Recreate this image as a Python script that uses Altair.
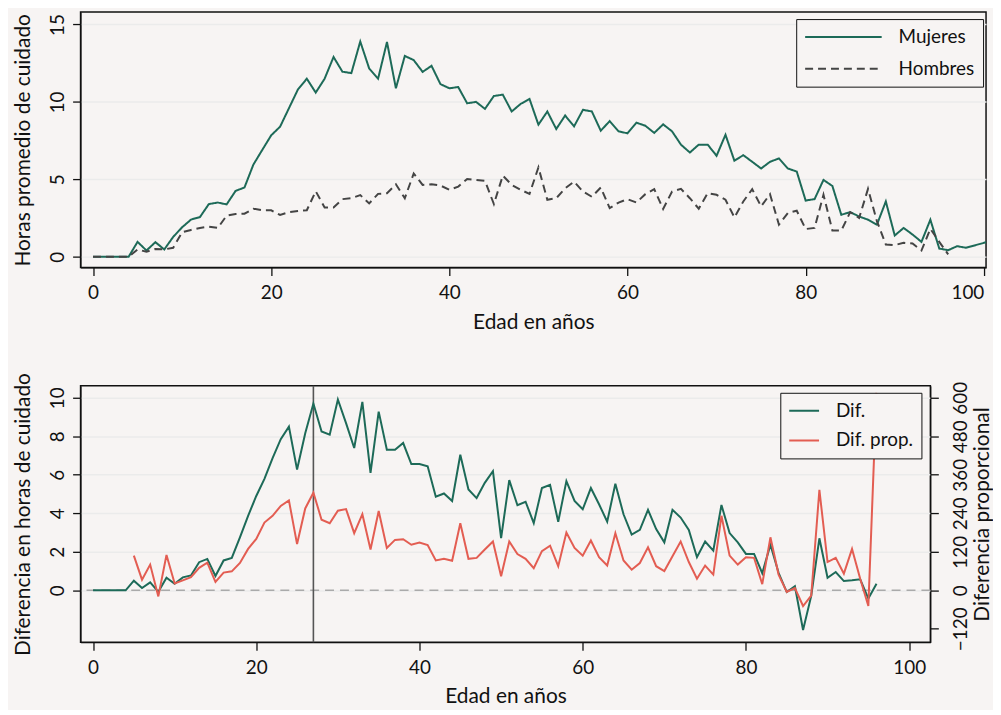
import altair as alt
import pandas as pd

# ---------------- data ----------------
EDAD = list(range(0, 102))

MUJERES = [0, 0, 0, 0, 0, 0.96, 0.40, 0.94, 0.47, 1.28, 1.90, 2.40, 2.56, 3.40, 3.50, 3.38,
           4.25, 4.47, 5.95, 6.90, 7.84, 8.40, 9.60, 10.80, 11.50, 10.60, 11.50, 12.90, 11.95, 11.86,
           13.90, 12.16, 11.50, 13.87, 10.88, 12.97, 12.70, 11.94, 12.33, 11.15, 10.88, 10.96, 9.91,
           10.00, 9.55, 10.38, 10.47, 9.38, 9.87, 10.19, 8.53, 9.38, 8.25, 9.12, 8.42, 9.49, 9.38,
           8.14, 8.76, 8.10, 7.97, 8.66, 8.46, 8.00, 8.55, 8.10, 7.24, 6.73, 7.24, 7.24, 6.52, 7.88,
           6.20, 6.56, 6.13, 5.70, 6.13, 6.35, 5.70, 5.50, 3.63, 3.72, 4.96, 4.57, 2.71, 2.88, 2.60,
           2.39, 2.07, 3.57, 1.37, 1.86, 1.43, 0.96, 2.39, 0.53, 0.42, 0.68, 0.58, None, None, 1.05]

HOMBRES = [0, 0, 0, 0, 0, 0.47, 0.32, 0.50, 0.47, 0.58, 1.58, 1.73, 1.86, 1.94, 1.86, 2.65,
           2.76, 2.78, 3.10, 3.00, 3.00, 2.70, 2.88, 2.95, 3.00, 4.23, 3.18, 3.18, 3.72, 3.78,
           3.98, 3.44, 4.06, 4.10, 4.68, 3.78, 5.38, 4.64, 4.68, 4.60, 4.32, 4.53, 5.02, 4.96, 4.90,
           3.40, 5.24, 4.64, 4.32, 4.06, 5.77, 3.68, 3.78, 4.42, 4.85, 4.21, 3.87, 4.47, 3.14, 3.50,
           3.72, 3.50, 4.04, 4.37, 3.08, 4.21, 4.38, 3.78, 3.10, 4.10, 4.00, 3.68, 2.54, 3.57, 4.36,
           3.25, 4.04, 2.07, 2.82, 2.97, 1.79, 1.86, 4.00, 1.69, 1.69, 2.88, 2.50, 4.38, 2.30, 0.79,
           0.75, 0.90, 0.85, 0.40, 1.80, 0.96, 0.15, None, None, None, None, None]

DIF = [0, 0, 0, 0, 0, 0.50, 0.12, 0.41, -0.08, 0.65, 0.34, 0.67, 0.77, 1.46, 1.63, 0.74,
       1.55, 1.68, 2.75, 3.87, 4.90, 5.79, 6.87, 7.85, 8.50, 6.27, 8.16, 9.70, 8.25, 8.08,
       9.91, 8.68, 7.39, 9.79, 6.10, 9.28, 7.30, 7.30, 7.65, 6.56, 6.56, 6.44, 4.86, 5.03, 4.64,
       7.04, 5.24, 4.79, 5.58, 6.19, 2.71, 5.72, 4.42, 4.60, 3.49, 5.31, 5.48, 3.56, 5.67, 4.64,
       4.21, 5.31, 4.47, 3.56, 5.53, 3.95, 2.89, 3.14, 4.18, 3.18, 2.49, 4.18, 3.78, 3.14, 1.72,
       2.53, 2.06, 4.43, 2.97, 2.49, 1.89, 1.89, 0.89, 2.37, 0.91, -0.09, 0.21, -2.06, -0.29,
       2.70, 0.65, 0.95, 0.48, 0.52, 0.57, -0.43, 0.34, None, None, None, None, None]

DIF_PROP = [None, None, None, None, None, 108, 33, 80, -19, 110, 21, 31, 41, 70, 86, 26,
            55, 59, 85, 129, 160, 211, 232, 263, 280, 144, 255, 304, 220, 209,
            248, 253, 178, 237, 127, 247, 132, 157, 159, 142, 149, 141, 93, 98, 92,
            209, 98, 101, 127, 152, 44, 152, 113, 98, 69, 122, 139, 75, 180, 132,
            108, 155, 103, 77, 178, 93, 64, 85, 134, 75, 60, 106, 152, 88, 36,
            77, 49, 232, 108, 80, 103, 101, 19, 165, 49, -5, 7, -49, -17,
            313, 88, 101, 52, 129, 36, -49, 615, None, None, None, None, None]

SERIES_TOP = ["Mujeres", "Hombres"]
SERIES_BOT = ["Dif.", "Dif. prop."]
X_TICKS = [0, 20, 40, 60, 80, 100]
Y_TICKS_TOP = [0, 5, 10, 15]
Y_TICKS_LEFT = [0, 2, 4, 6, 8, 10]
Y_TICKS_RIGHT = [-120, 0, 120, 240, 360, 480, 600]
ZERO = [0]
EDAD_MARCA = [27]

# ---------------- tables ----------------
rows = []
for e, m, h in zip(EDAD, MUJERES, HOMBRES):
    if m is not None:
        rows.append({"edad": e, "horas": m, "serie": "Mujeres"})
    if h is not None:
        rows.append({"edad": e, "horas": h, "serie": "Hombres"})
df_top = pd.DataFrame(rows)

df_dif = pd.DataFrame([{"edad": e, "valor": d, "serie": "Dif."}
                       for e, d in zip(EDAD, DIF) if d is not None])
df_prop = pd.DataFrame([{"edad": e, "valor": p, "serie": "Dif. prop."}
                        for e, p in zip(EDAD, DIF_PROP) if p is not None])
df_zero = pd.DataFrame({"y": ZERO})
df_vline = pd.DataFrame({"x": EDAD_MARCA})

GREEN = "#1d6a58"
RED = "#e35d52"
DARK = "#444444"
BG = "#f7f4f3"
INK = "#111111"
FONT = "Lato"


def legend(x, y, size, row_pad):
    return alt.Legend(orient="none", legendX=x, legendY=y,
                      symbolType="stroke", symbolSize=size,
                      symbolStrokeWidth=2, labelOffset=16,
                      labelFontSize=19, labelFont=FONT, labelColor=INK,
                      strokeColor=INK, fillColor=BG,
                      padding=8, rowPadding=row_pad, clipHeight=20)


# ---------------- top panel ----------------
x_top = alt.X("edad:Q", title="Edad en años",
              scale=alt.Scale(domain=[-1.4, 100.25], nice=False, zero=False),
              axis=alt.Axis(values=X_TICKS, grid=False, labelFlush=5,
                            labelPadding=8, titlePadding=9))

top = alt.Chart(df_top).mark_line(strokeWidth=2, clip=True).encode(
    x=x_top,
    y=alt.Y("horas:Q", title="Horas promedio de cuidado",
            scale=alt.Scale(domain=[-0.7, 15.8], nice=False, zero=False),
            axis=alt.Axis(values=Y_TICKS_TOP, grid=True, labelAngle=270,
                          labelAlign="center", labelBaseline="bottom",
                          labelPadding=5, titlePadding=15)),
    color=alt.Color("serie:N", title=None,
                    scale=alt.Scale(domain=SERIES_TOP, range=[GREEN, DARK]),
                    legend=legend(720, 7, 5929, 12)),
    strokeDash=alt.StrokeDash("serie:N", title=None,
                              scale=alt.Scale(domain=SERIES_TOP, range=[[1, 0], [8, 5]]),
                              legend=legend(720, 7, 5929, 12)),
).properties(width=911, height=257)

# ---------------- bottom panel ----------------
x_dom_bot = [-1.53, 102.6]
x_bot = alt.X("edad:Q", title="Edad en años",
              scale=alt.Scale(domain=x_dom_bot, nice=False, zero=False),
              axis=alt.Axis(values=X_TICKS, grid=False, labelFlush=False,
                            labelPadding=8, titlePadding=9))

color_bot = alt.Color("serie:N", title=None,
                      scale=alt.Scale(domain=SERIES_BOT, range=[GREEN, RED]),
                      legend=legend(704, 7, 900, 10))

y_left_scale = alt.Scale(domain=[-2.7, 10.62], nice=False, zero=False)

zero_rule = alt.Chart(df_zero).mark_rule(color="#aaaaaa", strokeWidth=1.5,
                                         strokeDash=[9, 6]).encode(
    y=alt.Y("y:Q", scale=y_left_scale)
)
vline = alt.Chart(df_vline).mark_rule(color="#555555", strokeWidth=1.6).encode(
    x=alt.X("x:Q", scale=alt.Scale(domain=x_dom_bot, nice=False, zero=False))
)
dif_line = alt.Chart(df_dif).mark_line(strokeWidth=2).encode(
    x=x_bot,
    y=alt.Y("valor:Q", title="Diferencia en horas de cuidado", scale=y_left_scale,
            axis=alt.Axis(values=Y_TICKS_LEFT, grid=True, labelAngle=270,
                          labelAlign="center", labelBaseline="bottom",
                          labelPadding=5, titlePadding=15)),
    color=color_bot,
)
left_group = alt.layer(zero_rule, vline, dif_line)

prop_line = alt.Chart(df_prop).mark_line(strokeWidth=2).encode(
    x=x_bot,
    y=alt.Y("valor:Q", title="Diferencia proporcional",
            scale=alt.Scale(domain=[-162, 637], nice=False, zero=False),
            axis=alt.Axis(orient="right", values=Y_TICKS_RIGHT, grid=False,
                          labelAngle=270, labelAlign="center", labelBaseline="top",
                          labelPadding=13, titleAngle=270, titleBaseline="top",
                          titlePadding=1)),
    color=color_bot,
)

bottom = alt.layer(left_group, prop_line).resolve_scale(y="independent").properties(
    width=855, height=258)

chart = alt.vconcat(top, bottom, spacing=38).resolve_scale(
    color="independent", strokeDash="independent"
).resolve_legend(color="independent", strokeDash="independent").properties(
    padding={"left": 4, "top": 1, "right": 0, "bottom": 0},
    background=BG,
).configure_view(
    stroke=INK, strokeWidth=1.5, fill=BG
).configure_axis(
    labelFont=FONT, titleFont=FONT, labelFontSize=19, titleFontSize=21,
    titleFontWeight="normal", labelColor=INK, titleColor=INK,
    domainColor=INK, tickColor=INK, tickSize=8, tickWidth=1.3,
    gridColor="#ebebeb", gridWidth=1.5,
)

chart.save("out.html", embed_options={"renderer": "svg", "actions": False})
